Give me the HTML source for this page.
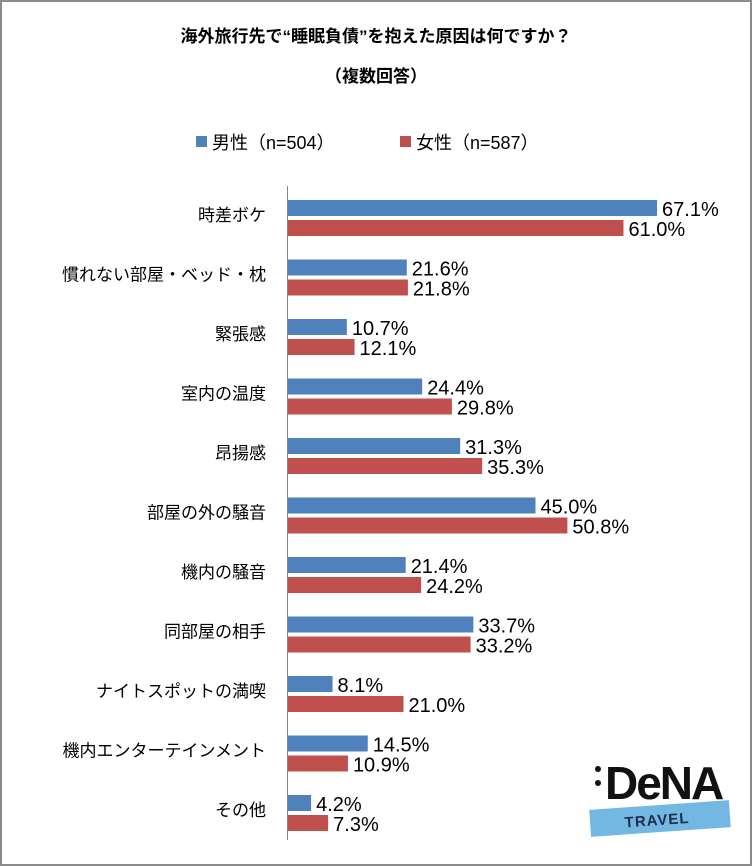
<!DOCTYPE html>
<html><head><meta charset="utf-8">
<style>
body{margin:0;background:#fff;}
#wrap{position:relative;width:748px;height:862px;border:2px solid #8c8c8c;background:#fff;overflow:hidden;font-family:"Liberation Sans","Noto Sans CJK JP",sans-serif;}
svg text{font-family:"Liberation Sans","Noto Sans CJK JP",sans-serif;}
</style></head>
<body>
<div id="wrap">
<svg id="chart" width="748" height="862">
<text x="374" y="40" text-anchor="middle" font-size="17" font-weight="bold" fill="#000">海外旅行先で“睡眠負債”を抱えた原因は何ですか？</text>
<text x="374" y="80" text-anchor="middle" font-size="17" font-weight="bold" fill="#000">（複数回答）</text>
<g>
<rect x="194" y="134" width="11" height="11" fill="#4f81bd"/>
<text x="210" y="147" font-size="18" fill="#000">男性（n=504）</text>
<rect x="398" y="134" width="11" height="11" fill="#c0504d"/>
<text x="414" y="147" font-size="18" fill="#000">女性（n=587）</text>
</g>
<line x1="285.5" y1="184" x2="285.5" y2="838" stroke="#868686" stroke-width="1"/>
<g id="bars"></g>
<g>
<circle cx="596" cy="767" r="3" fill="#111"/>
<circle cx="596" cy="781" r="3" fill="#111"/>
<text x="603" y="797" font-size="46" font-weight="bold" fill="#111" style="letter-spacing:-2px">DeNA</text>
<g transform="rotate(-4 658 817)">
<rect x="588" y="803" width="140" height="27" fill="#72b8e3"/>
<text x="655" y="823" text-anchor="middle" font-size="15" font-weight="bold" fill="#1e2d4a" style="letter-spacing:1px">TRAVEL</text>
</g>
</g>
</svg>
</div>
<script>
const categories=["時差ボケ","慣れない部屋・ベッド・枕","緊張感","室内の温度","昂揚感","部屋の外の騒音","機内の騒音","同部屋の相手","ナイトスポットの満喫","機内エンターテインメント","その他"];
const maleValues=[67.1,21.6,10.7,24.4,31.3,45.0,21.4,33.7,8.1,14.5,4.2];
const femaleValues=[61.0,21.8,12.1,29.8,35.3,50.8,24.2,33.2,21.0,10.9,7.3];
const x0=286, pxPer=5.5, groupTop=184, groupH=59.5;
function xs(v){return v*pxPer;}
const g=document.getElementById('bars');
const NS="http://www.w3.org/2000/svg";
categories.forEach((c,i)=>{
  const top=groupTop+i*groupH;
  const lab=document.createElementNS(NS,'text');
  lab.setAttribute('x',264);lab.setAttribute('y',top+35);lab.setAttribute('text-anchor','end');lab.setAttribute('font-size','17');
  lab.textContent=c;
  
  
  g.appendChild(lab);
  [[maleValues[i],'#4f81bd',14,'bar-male'],[femaleValues[i],'#c0504d',34,'bar-female']].forEach(([v,col,off,nm])=>{
    const r=document.createElementNS(NS,'rect');
    r.setAttribute('x',x0);r.setAttribute('y',top+off);r.setAttribute('width',xs(v));r.setAttribute('height',16);r.setAttribute('fill',col);
    
    
    g.appendChild(r);
    const t=document.createElementNS(NS,'text');
    t.setAttribute('x',x0+xs(v)+5);t.setAttribute('y',top+off+16);t.setAttribute('font-size','20');
    t.textContent=v.toFixed(1)+'%';
    
    
    g.appendChild(t);
  });
});
</script>
</body></html>
